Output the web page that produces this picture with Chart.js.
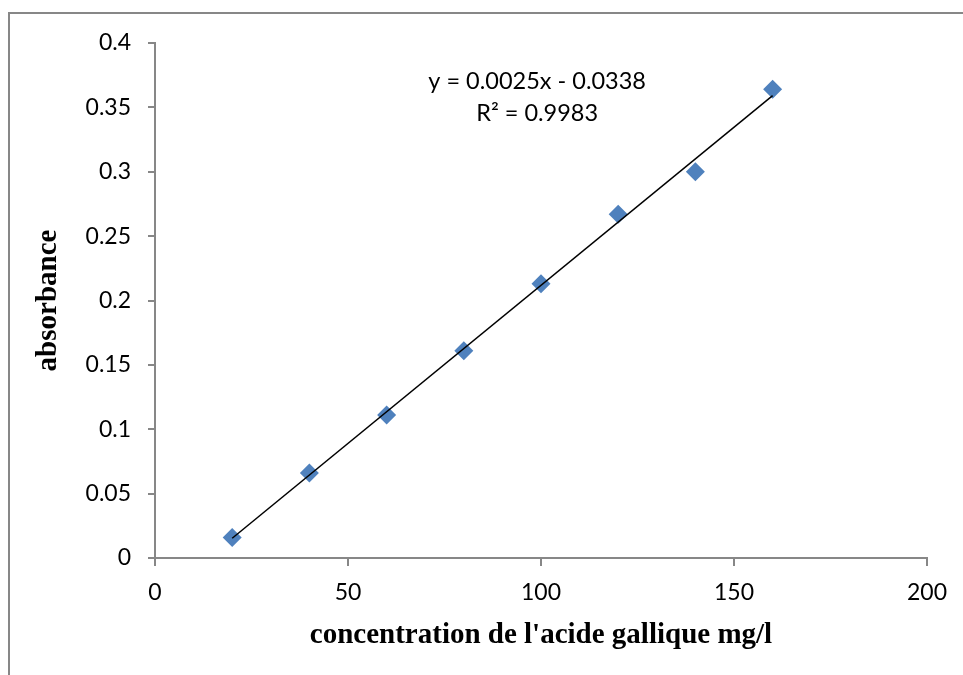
<!DOCTYPE html>
<html>
<head>
<meta charset="utf-8">
<script src="https://cdn.jsdelivr.net/npm/chart.js@4"></script>
<style>
  body { margin: 0; background: #fff; }
  #wrap { position: relative; width: 963px; height: 675px; overflow: hidden; }
  #frame { position: absolute; left: 8px; top: 12px; width: 1000px; height: 700px;
           border-top: 2px solid #878787; border-left: 2px solid #878787; }
  canvas { position: absolute; left: 0; top: 0; }
</style>
</head>
<body>
<div id="wrap">
  <div id="frame"></div>
  <canvas id="chart" width="963" height="675"></canvas>
</div>
<script>
// donnees
const concentrations = [20, 40, 60, 80, 100, 120, 140, 160];
const absorbances = [0.016, 0.066, 0.111, 0.161, 0.213, 0.267, 0.300, 0.364];
const xTicks = [0, 50, 100, 150, 200];
const yTicks = [0, 0.05, 0.1, 0.15, 0.2, 0.25, 0.3, 0.35, 0.4];
const equationLines = ['y = 0.0025x - 0.0338', 'R\u00b2 = 0.9983'];

// droite de regression (courbe de tendance)
const n = concentrations.length;
const mx = concentrations.reduce((a, b) => a + b, 0) / n;
const my = absorbances.reduce((a, b) => a + b, 0) / n;
let sxy = 0, sxx = 0;
for (let i = 0; i < n; i++) {
  sxy += (concentrations[i] - mx) * (absorbances[i] - my);
  sxx += (concentrations[i] - mx) ** 2;
}
const slope = sxy / sxx;
const intercept = my - slope * mx;
const xMin = Math.min(...concentrations), xMax = Math.max(...concentrations);
const trend = [
  { x: xMin, y: slope * xMin + intercept },
  { x: xMax, y: slope * xMax + intercept }
];

const axisGray = '#878787';
const tickFont = { family: 'Lato, "Open Sans", sans-serif', size: 23 };
const titleFont = { family: '"Liberation Serif", "Times New Roman", serif', size: 29, weight: 'bold' };

const equationPlugin = {
  id: 'equation',
  afterDatasetsDraw(chart) {
    const { ctx, scales: { x, y } } = chart;
    ctx.save();
    ctx.font = `23.5px ${tickFont.family}`;
    ctx.fillStyle = '#000';
    ctx.textAlign = 'center';
    ctx.textBaseline = 'middle';
    const cx = x.getPixelForValue(99);
    ctx.fillText(equationLines[0], cx, y.getPixelForValue(0.3705));
    ctx.fillText(equationLines[1], cx, y.getPixelForValue(0.345));
    ctx.restore();
  }
};

new Chart(document.getElementById('chart'), {
  type: 'scatter',
  data: {
    datasets: [
      {
        type: 'line',
        label: 'tendance',
        data: trend,
        borderColor: '#000',
        borderWidth: 1.5,
        pointRadius: 0,
        order: 0
      },
      {
        label: 'absorbance',
        data: concentrations.map((c, i) => ({ x: c, y: absorbances[i] })),
        pointStyle: 'rectRot',
        pointRadius: 9.5,
        backgroundColor: '#4F81BD',
        borderColor: '#4F81BD',
        borderWidth: 0,
        order: 1
      }
    ]
  },
  options: {
    responsive: false,
    animation: false,
    layout: { padding: { left: 0, right: 36, top: 43, bottom: 0 } },
    plugins: { legend: { display: false }, tooltip: { enabled: false } },
    scales: {
      x: {
        type: 'linear',
        min: 0, max: 200,
        afterBuildTicks: s => { s.ticks = xTicks.map(v => ({ value: v })); },
        afterFit: s => { s.height = 117; },
        grid: { drawOnChartArea: false, tickLength: 8, color: axisGray, lineWidth: 2 },
        border: { color: axisGray, width: 2 },
        ticks: { font: tickFont, color: '#000', padding: 13, maxRotation: 0 },
        title: { display: true, text: "concentration de l'acide gallique mg/l", font: titleFont, color: '#000', padding: { bottom: 22 } }
      },
      y: {
        type: 'linear',
        min: 0, max: 0.4,
        afterBuildTicks: s => { s.ticks = yTicks.map(v => ({ value: v })); },
        afterFit: s => { s.width = 155; },
        grid: { drawOnChartArea: false, tickLength: 7, color: axisGray, lineWidth: 2 },
        border: { color: axisGray, width: 2 },
        ticks: { font: tickFont, color: '#000', padding: 17, callback: v => String(v) },
        title: { display: true, text: 'absorbance', font: titleFont, color: '#000', padding: { top: 31 } }
      }
    }
  },
  plugins: [equationPlugin]
});
</script>
</body>
</html>
